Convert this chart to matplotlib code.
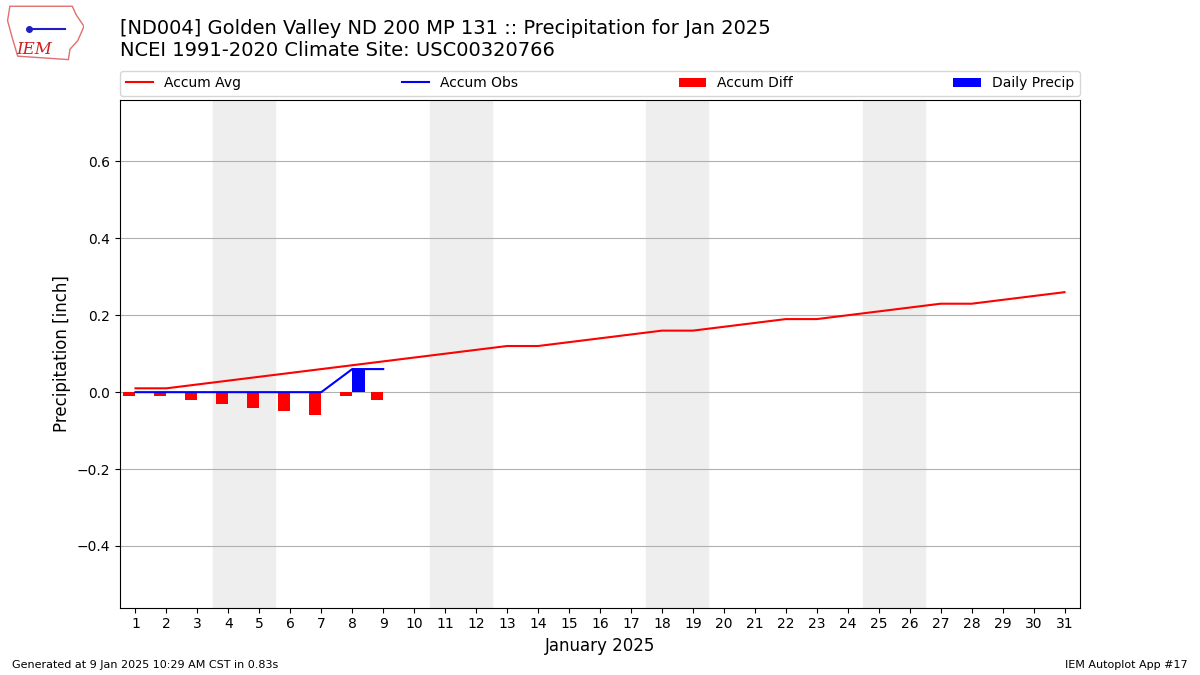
import matplotlib
matplotlib.use("Agg")
import matplotlib.pyplot as plt
from matplotlib.patches import Polygon

days = list(range(1, 32))
accum_avg = [0.01, 0.01, 0.02, 0.03, 0.04, 0.05, 0.06, 0.07, 0.08, 0.09,
             0.10, 0.11, 0.12, 0.12, 0.13, 0.14, 0.15, 0.16, 0.16, 0.17,
             0.18, 0.19, 0.19, 0.20, 0.21, 0.22, 0.23, 0.23, 0.24, 0.25, 0.26]
obs_days = [1, 2, 3, 4, 5, 6, 7, 8, 9]
accum_obs = [0.0, 0.0, 0.0, 0.0, 0.0, 0.0, 0.0, 0.06, 0.06]
accum_diff = [-0.01, -0.01, -0.02, -0.03, -0.04, -0.05, -0.06, -0.01, -0.02]
daily_precip = [0.0, 0.0, 0.0, 0.0, 0.0, 0.0, 0.0, 0.06, 0.0]
weekends = [(4, 5), (11, 12), (18, 19), (25, 26)]

fig = plt.figure(figsize=(12, 6.75), dpi=100)
ax = fig.add_axes([0.1, 0.1, 0.8, 0.752])

# weekend shading
for a, b in weekends:
    ax.axvspan(a - 0.5, b + 0.5, color="#eeeeee", zorder=0)

ax.plot(days, accum_avg, color="r", lw=1.5, label="Accum Avg", zorder=3)
ax.plot(obs_days, accum_obs, color="b", lw=1.5, label="Accum Obs", zorder=3)
ax.bar([d - 0.4 for d in obs_days], accum_diff, width=0.4, align="edge",
       color="r", label="Accum Diff", zorder=2)
ax.bar(obs_days, daily_precip, width=0.4, align="edge",
       color="b", label="Daily Precip", zorder=2)

ax.set_xlim(0.5, 31.5)
ax.set_ylim(-0.56, 0.76)
ax.set_xticks(days)
ax.set_yticks([-0.4, -0.2, 0.0, 0.2, 0.4, 0.6])
ax.yaxis.grid(True, color="#b0b0b0", lw=0.8)
ax.set_axisbelow(True)
ax.set_xlabel("January 2025", fontsize=12)
ax.set_ylabel("Precipitation [inch]", fontsize=12)

ax.legend(loc="lower left", bbox_to_anchor=(0, 1.008, 1, 0.05), ncol=4,
          mode="expand", borderaxespad=0, fontsize=10)

fig.text(0.1, 0.972, "[ND004] Golden Valley ND 200 MP 131 :: Precipitation for Jan 2025\n"
         "NCEI 1991-2020 Climate Site: USC00320766", fontsize=14, va="top", ha="left")

fig.text(0.01, 0.01, "Generated at 9 Jan 2025 10:29 AM CST in 0.83s", fontsize=8)
fig.text(0.99, 0.01, "IEM Autoplot App #17", fontsize=8, ha="right")

# simple logo
lax = fig.add_axes([0.005, 0.91, 0.065, 0.085])
lax.axis("off")
lax.set_xlim(0, 1)
lax.set_ylim(0, 1)
outline = [(0.05, 0.95), (0.85, 0.95), (0.9, 0.8), (1.0, 0.6), (0.92, 0.35),
           (0.82, 0.2), (0.8, 0.02), (0.15, 0.08), (0.08, 0.4), (0.02, 0.7)]
lax.add_patch(Polygon(outline, closed=True, fill=False, ec="#e07070", lw=1))
lax.plot([0.3, 0.75], [0.55, 0.55], color="#2020c0", lw=1.5)
lax.plot([0.3], [0.55], "o", color="#2020c0", ms=4)
lax.text(0.13, 0.12, "IEM", color="#cc2020", fontsize=12, family="DejaVu Serif",
         style="italic")

fig.savefig("out.png", dpi=100)
